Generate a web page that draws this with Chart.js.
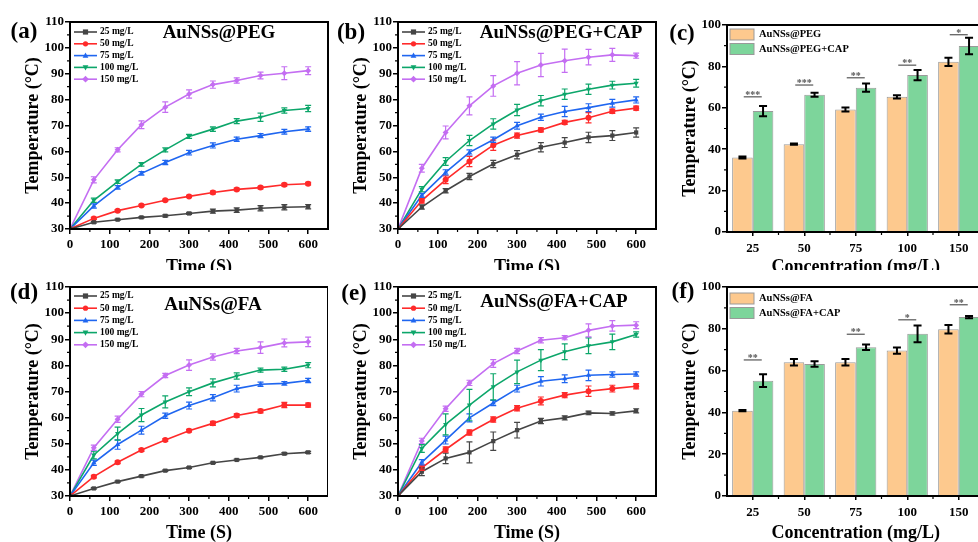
<!DOCTYPE html>
<html>
<head>
<meta charset="utf-8">
<script src="https://cdn.jsdelivr.net/npm/chart.js@4.4.0/dist/chart.umd.min.js"></script>
<style>
  html, body { margin: 0; padding: 0; background: #fff; width: 978px; height: 542px; overflow: hidden; }
  canvas { position: absolute; }
  .tag { position: absolute; font: bold 23px 'Liberation Serif', 'Times New Roman', serif; color: #000; transform: translate(-50%, -50%); }
</style>
</head>
<body>
<canvas id="chartA" width="332" height="285" style="left:0;top:0"></canvas>
<canvas id="chartB" width="332" height="285" style="left:328px;top:0"></canvas>
<canvas id="chartC" width="330" height="285" style="left:657px;top:0"></canvas>
<canvas id="chartD" width="332" height="272" style="left:0;top:270px"></canvas>
<canvas id="chartE" width="332" height="272" style="left:328px;top:270px"></canvas>
<canvas id="chartF" width="330" height="272" style="left:657px;top:270px"></canvas>
<div class="tag" style="left:24px;top:31px">(a)</div>
<div class="tag" style="left:351px;top:32px">(b)</div>
<div class="tag" style="left:682px;top:33px">(c)</div>
<div class="tag" style="left:24px;top:292px">(d)</div>
<div class="tag" style="left:354px;top:293px">(e)</div>
<div class="tag" style="left:683px;top:291px">(f)</div>
<script>
const FONT = "'Liberation Serif', 'Times New Roman', serif";

// temps de mesure (s) et concentrations
const timePoints = [0, 60, 120, 180, 240, 300, 360, 420, 480, 540, 600];
const concNames = ["25 mg/L", "50 mg/L", "75 mg/L", "100 mg/L", "150 mg/L"];
const lineColors = ["#454545", "#ff2a2a", "#1f66f0", "#0ca66a", "#c46ef2"];
const markerStyles = ["rect", "circle", "triangle", "triangle", "rectRot"];
const markerRotation = [0, 0, 0, 180, 0];

// (a) AuNSs@PEG : une ligne par concentration
const pegTemp = [
  [30, 32.6, 33.6, 34.5, 35.1, 36.0, 36.9, 37.3, 38.0, 38.4, 38.6],
  [30, 34.1, 37.1, 39.1, 41.1, 42.6, 44.1, 45.3, 46.0, 47.1, 47.5],
  [30, 38.9, 46.1, 51.5, 55.7, 59.5, 62.3, 64.7, 66.1, 67.6, 68.6],
  [30, 41.1, 48.3, 55.0, 60.6, 65.8, 68.6, 71.7, 73.2, 75.8, 76.6],
  [30, 49.0, 60.6, 70.3, 77.1, 82.2, 85.8, 87.4, 89.3, 90.2, 91.2]
];
const pegErr = [
  [0, 0.3, 0.3, 0.3, 0.4, 0.4, 0.8, 0.9, 1.0, 1.0, 0.8],
  [0, 0.4, 0.4, 0.4, 0.4, 0.4, 0.5, 0.5, 0.5, 0.5, 0.5],
  [0, 0.8, 0.7, 0.7, 0.8, 0.9, 1.0, 0.8, 0.8, 0.9, 0.9],
  [0, 0.8, 0.7, 0.7, 0.8, 0.8, 0.9, 1.0, 1.6, 1.0, 1.2],
  [0, 1.2, 0.8, 1.5, 2.0, 1.6, 1.4, 1.0, 1.3, 2.5, 1.5]
];

// (b) AuNSs@PEG+CAP
const pegCapTemp = [
  [30, 38.5, 44.8, 50.3, 55.1, 58.7, 61.6, 63.4, 65.4, 66.1, 67.3],
  [30, 41.0, 49.0, 56.1, 62.4, 66.1, 68.3, 71.2, 73.0, 75.5, 76.7],
  [30, 43.0, 51.9, 59.6, 64.5, 69.9, 73.2, 75.4, 76.9, 78.6, 79.9],
  [30, 45.4, 56.1, 64.2, 70.6, 76.0, 79.6, 82.1, 84.0, 85.6, 86.3],
  [30, 53.5, 67.3, 77.6, 85.3, 90.2, 93.4, 95.0, 96.4, 97.3, 97.0]
];
const pegCapErr = [
  [0, 0.8, 0.8, 1.2, 1.4, 1.6, 1.8, 1.9, 2.0, 1.9, 1.8],
  [0, 1.0, 1.5, 2.0, 2.0, 1.0, 0.8, 0.8, 2.0, 0.8, 0.8],
  [0, 0.8, 1.0, 1.0, 1.0, 1.3, 1.2, 2.0, 1.5, 1.5, 1.2],
  [0, 1.0, 1.5, 2.0, 2.0, 2.2, 2.0, 2.0, 2.0, 1.5, 1.5],
  [0, 1.5, 2.5, 3.5, 4.0, 4.5, 4.5, 4.5, 3.0, 2.5, 1.0]
];

// (d) AuNSs@FA
const faTemp = [
  [30, 32.9, 35.5, 37.6, 39.7, 40.9, 42.7, 43.8, 44.8, 46.2, 46.7],
  [30, 37.4, 42.9, 47.6, 51.4, 55.0, 57.8, 60.8, 62.5, 64.8, 64.8],
  [30, 42.7, 49.7, 55.2, 60.7, 64.6, 67.6, 71.1, 72.8, 73.1, 74.2],
  [30, 45.7, 53.9, 61.0, 66.0, 69.9, 73.3, 75.9, 78.2, 78.5, 80.1],
  [30, 48.5, 59.4, 69.0, 76.1, 80.1, 83.2, 85.5, 86.8, 88.6, 89.0]
];
const faErr = [
  [0, 0.3, 0.3, 0.3, 0.3, 0.3, 0.3, 0.3, 0.3, 0.4, 0.4],
  [0, 0.5, 0.5, 0.5, 0.5, 0.5, 0.8, 0.6, 0.7, 1.0, 0.8],
  [0, 1.0, 1.8, 1.5, 1.0, 1.3, 1.2, 1.3, 0.8, 0.7, 0.8],
  [0, 1.5, 2.5, 2.5, 2.3, 1.5, 1.5, 1.2, 0.8, 0.8, 1.0],
  [0, 1.0, 1.2, 1.0, 0.8, 2.0, 1.2, 1.0, 2.2, 1.5, 1.8]
];

// (e) AuNSs@FA+CAP
const faCapTemp = [
  [30, 39.3, 44.4, 46.7, 51.0, 55.2, 58.7, 59.9, 61.8, 61.6, 62.6],
  [30, 40.8, 47.8, 54.3, 59.3, 63.6, 66.4, 68.6, 70.1, 71.1, 72.0],
  [30, 42.9, 51.4, 59.9, 65.6, 71.1, 73.9, 74.9, 76.2, 76.5, 76.7],
  [30, 48.2, 57.4, 64.8, 71.8, 77.5, 82.0, 85.2, 87.5, 89.0, 91.8],
  [30, 51.1, 63.4, 73.3, 80.7, 85.5, 89.6, 90.6, 93.4, 95.1, 95.4]
];
const faCapErr = [
  [0, 1.5, 2.0, 4.0, 3.5, 3.0, 1.0, 0.8, 0.7, 0.6, 0.8],
  [0, 1.0, 1.0, 1.0, 1.0, 1.0, 1.5, 1.0, 2.0, 1.3, 1.0],
  [0, 1.0, 1.5, 1.5, 1.0, 1.3, 1.8, 1.5, 2.0, 1.0, 0.8],
  [0, 1.5, 4.0, 6.0, 5.0, 4.5, 4.0, 3.0, 3.0, 3.0, 1.0],
  [0, 1.0, 1.0, 1.0, 1.5, 1.0, 1.0, 0.8, 2.5, 2.0, 1.3]
];

// (c) et (f) : température finale par concentration
const barCats = ["25", "50", "75", "100", "150"];
const pegBar = [36.0, 42.4, 59.2, 65.3, 82.2];
const pegBarErr = [0.5, 0.3, 1.0, 0.8, 2.0];
const pegCapBar = [58.4, 66.3, 69.7, 75.8, 89.9];
const pegCapBarErr = [2.5, 1.0, 2.0, 2.5, 4.0];
const pegStars = ["***", "***", "**", "**", "*"];
const pegStarLevel = [65.3, 71.0, 74.5, 80.6, 95.3];

const faBar = [40.8, 64.0, 64.0, 69.6, 79.8];
const faBarErr = [0.3, 1.5, 1.5, 1.5, 2.0];
const faCapBar = [55.2, 63.2, 71.2, 77.6, 85.6];
const faCapBarErr = [3.0, 1.3, 1.3, 4.0, 0.5];
const faStars = ["**", "", "**", "*", "**"];
const faStarLevel = [65.1, null, 77.4, 84.3, 91.5];

const orange = "#fdc98e";
const green = "#7dd59b";

// dessiner un symbole (légende)
function drawMarker(ctx, style, rot, x, y, r, color) {
  ctx.save();
  ctx.fillStyle = color;
  ctx.translate(x, y);
  ctx.rotate((rot * Math.PI) / 180);
  ctx.beginPath();
  if (style === "rect") {
    ctx.rect(-r, -r, 2 * r, 2 * r);
  } else if (style === "circle") {
    ctx.arc(0, 0, r, 0, Math.PI * 2);
  } else if (style === "triangle") {
    ctx.moveTo(0, -r * 1.2);
    ctx.lineTo(r * 1.1, r * 0.8);
    ctx.lineTo(-r * 1.1, r * 0.8);
    ctx.closePath();
  } else {
    ctx.moveTo(0, -r * 1.3);
    ctx.lineTo(r * 1.3, 0);
    ctx.lineTo(0, r * 1.3);
    ctx.lineTo(-r * 1.3, 0);
    ctx.closePath();
  }
  ctx.fill();
  ctx.restore();
}

// barres d'erreur, cadre, légende, titre et étoiles
const decoPlugin = {
  id: "deco",
  beforeDraw(chart, args, opts) {
    if (opts.whiteBg) {
      const ctx = chart.ctx;
      ctx.save();
      ctx.fillStyle = "#fff";
      ctx.fillRect(0, 0, chart.width, chart.height);
      ctx.restore();
    }
  },
  afterDatasetsDraw(chart) {
    const ctx = chart.ctx;
    const yScale = chart.scales.y;
    chart.data.datasets.forEach((ds, k) => {
      if (!ds.errors) return;
      const meta = chart.getDatasetMeta(k);
      const isBar = chart.config.type === "bar";
      ctx.save();
      ctx.strokeStyle = isBar ? "#000" : ds.borderColor;
      ctx.lineWidth = isBar ? 2 : 1.2;
      const cap = isBar ? 4 : 3;
      meta.data.forEach((el, i) => {
        const e = ds.errors[i];
        if (!e) return;
        const v = isBar ? ds.data[i] : ds.data[i].y;
        const y1 = yScale.getPixelForValue(v - e);
        const y2 = yScale.getPixelForValue(v + e);
        ctx.beginPath();
        ctx.moveTo(el.x, y1);
        ctx.lineTo(el.x, y2);
        ctx.moveTo(el.x - cap, y1);
        ctx.lineTo(el.x + cap, y1);
        ctx.moveTo(el.x - cap, y2);
        ctx.lineTo(el.x + cap, y2);
        ctx.stroke();
      });
      ctx.restore();
    });
  },
  afterDraw(chart, args, opts) {
    const ctx = chart.ctx;
    const a = chart.chartArea;
    const xs = chart.scales.x;
    const ys = chart.scales.y;
    ctx.save();

    // petites graduations
    ctx.strokeStyle = "#000";
    ctx.lineWidth = 1.2;
    ctx.beginPath();
    (opts.minorY || []).forEach((v) => {
      const py = ys.getPixelForValue(v);
      ctx.moveTo(a.left, py);
      ctx.lineTo(a.left - 3, py);
    });
    if (chart.config.type === "bar") {
      for (let i = 0; i < barCats.length - 1; i++) {
        const px = (xs.getPixelForValue(i) + xs.getPixelForValue(i + 1)) / 2;
        ctx.moveTo(px, a.bottom);
        ctx.lineTo(px, a.bottom + 3);
      }
    } else {
      (opts.minorX || []).forEach((v) => {
        const px = xs.getPixelForValue(v);
        ctx.moveTo(px, a.bottom);
        ctx.lineTo(px, a.bottom + 3);
      });
    }
    ctx.stroke();

    // cadre
    ctx.lineWidth = 2;
    ctx.strokeRect(a.left, a.top, a.right - a.left, a.bottom - a.top);

    // étoiles de significativité
    if (opts.stars) {
      opts.stars.labels.forEach((lab, i) => {
        if (!lab) return;
        const cx = xs.getPixelForValue(i);
        const py = ys.getPixelForValue(opts.stars.levels[i]);
        ctx.strokeStyle = "#555";
        ctx.lineWidth = 1.2;
        ctx.beginPath();
        ctx.moveTo(cx - 9, py);
        ctx.lineTo(cx + 9, py);
        ctx.stroke();
        ctx.fillStyle = "#555";
        ctx.font = "bold 10px " + FONT;
        ctx.textAlign = "center";
        ctx.textBaseline = "alphabetic";
        ctx.fillText(lab, cx, py + 1);
      });
    }

    // titre du panneau
    if (opts.title) {
      ctx.fillStyle = "#000";
      ctx.font = "bold 19px " + FONT;
      ctx.textAlign = "center";
      ctx.textBaseline = "middle";
      ctx.fillText(opts.title.text, a.left + opts.title.dx, a.top + opts.title.dy);
    }

    // légende
    if (opts.legend) {
      const L = opts.legend;
      chart.data.datasets.forEach((ds, k) => {
        const y = a.top + L.dy + k * L.step;
        if (L.kind === "line") {
          ctx.strokeStyle = ds.borderColor;
          ctx.lineWidth = 1.6;
          ctx.beginPath();
          ctx.moveTo(a.left + 4, y);
          ctx.lineTo(a.left + 27, y);
          ctx.stroke();
          drawMarker(ctx, markerStyles[k], markerRotation[k], a.left + 15.5, y, 2.6, ds.borderColor);
          ctx.font = "bold 9.5px " + FONT;
          ctx.fillStyle = "#000";
          ctx.textAlign = "left";
          ctx.textBaseline = "middle";
          ctx.fillText(ds.label, a.left + 30, y);
        } else {
          ctx.fillStyle = ds.backgroundColor;
          ctx.fillRect(a.left + 3, y - 5.5, 24, 11);
          ctx.strokeStyle = "#999";
          ctx.lineWidth = 1;
          ctx.strokeRect(a.left + 3, y - 5.5, 24, 11);
          ctx.font = "bold 10.5px " + FONT;
          ctx.fillStyle = "#000";
          ctx.textAlign = "left";
          ctx.textBaseline = "middle";
          ctx.fillText(ds.label, a.left + 32, y);
        }
      });
    }
    ctx.restore();
  }
};
Chart.register(decoPlugin);

function tickFont() {
  return { family: FONT, size: 13, weight: "bold" };
}
function titleFont() {
  return { family: FONT, size: 18, weight: "bold", lineHeight: 1 };
}

function yAxis(min, max, step) {
  return {
    min: min,
    max: max,
    afterFit: (s) => { s.width = 70; },
    ticks: { stepSize: step, padding: 1, color: "#000", font: tickFont() },
    grid: { drawOnChartArea: false, drawTicks: true, tickLength: 5, color: "#000", lineWidth: 1.5 },
    border: { display: true, color: "#000", width: 2 },
    title: { display: true, text: "Temperature (°C)", color: "#000", font: titleFont(), padding: { top: 24, bottom: 0 } }
  };
}

function makeLineChart(id, temps, errs, panel) {
  const datasets = temps.map((arr, k) => ({
    label: concNames[k],
    data: timePoints.map((t, i) => ({ x: t, y: arr[i] })),
    errors: errs[k],
    borderColor: lineColors[k],
    backgroundColor: lineColors[k],
    borderWidth: 1.6,
    pointStyle: markerStyles[k],
    pointRotation: markerRotation[k],
    pointRadius: 3,
    pointBorderWidth: 0,
    tension: 0
  }));

  return new Chart(document.getElementById(id), {
    type: "line",
    data: { datasets: datasets },
    options: {
      responsive: false,
      animation: false,
      layout: { padding: { top: panel.padTop, right: 2, left: 0, bottom: 0 } },
      plugins: {
        legend: { display: false },
        tooltip: { enabled: false },
        deco: {
          whiteBg: panel.whiteBg,
          minorX: [50, 150, 250, 350, 450, 550],
          minorY: [35, 45, 55, 65, 75, 85, 95, 105],
          title: panel.title,
          legend: { kind: "line", dy: panel.legendDy, step: panel.legendStep }
        }
      },
      scales: {
        x: {
          type: "linear",
          min: 0,
          max: 650,
          afterFit: (s) => { s.height = panel.xHeight; },
          ticks: { stepSize: 100, includeBounds: false, padding: 3, maxRotation: 0, color: "#000", font: tickFont() },
          grid: { drawOnChartArea: false, drawTicks: true, tickLength: 5, color: "#000", lineWidth: 1.5 },
          border: { display: true, color: "#000", width: 2 },
          title: { display: true, text: "Time (S)", color: "#000", font: titleFont(), padding: { top: 0, bottom: panel.titlePad } }
        },
        y: yAxis(30, 110, 10)
      }
    }
  });
}

function makeBarChart(id, names, vals1, err1, vals2, err2, stars, levels, panel) {
  return new Chart(document.getElementById(id), {
    type: "bar",
    data: {
      labels: barCats,
      datasets: [
        { label: names[0], data: vals1, errors: err1, backgroundColor: orange, borderColor: "#9a9a9a", borderWidth: 1, categoryPercentage: 0.8, barPercentage: 1 },
        { label: names[1], data: vals2, errors: err2, backgroundColor: green, borderColor: "#9a9a9a", borderWidth: 1, categoryPercentage: 0.8, barPercentage: 1 }
      ]
    },
    options: {
      responsive: false,
      animation: false,
      layout: { padding: { top: panel.padTop, right: 2.5, left: 0, bottom: 0 } },
      plugins: {
        legend: { display: false },
        tooltip: { enabled: false },
        deco: {
          whiteBg: panel.whiteBg,
          minorY: [10, 30, 50, 70, 90],
          stars: { labels: stars, levels: levels },
          legend: { kind: "bar", dy: panel.legendDy, step: 14.5 }
        }
      },
      scales: {
        x: {
          afterFit: (s) => { s.height = panel.xHeight; },
          ticks: { padding: 5, maxRotation: 0, color: "#000", font: tickFont() },
          grid: { offset: false, drawOnChartArea: false, drawTicks: true, tickLength: 4, color: "#000", lineWidth: 1.5 },
          border: { display: true, color: "#000", width: 2 },
          title: { display: true, text: "Concentration (mg/L)", color: "#000", font: titleFont(), padding: { top: 0, bottom: panel.titlePad } }
        },
        y: yAxis(0, 100, 20)
      }
    }
  });
}

document.addEventListener("DOMContentLoaded", function () {
  makeLineChart("chartA", pegTemp, pegErr, {
    padTop: 22, xHeight: 56, titlePad: 9, whiteBg: false,
    title: { text: "AuNSs@PEG", dx: 149, dy: 11 }, legendDy: 10, legendStep: 11.8
  });
  makeLineChart("chartB", pegCapTemp, pegCapErr, {
    padTop: 22, xHeight: 56, titlePad: 9, whiteBg: false,
    title: { text: "AuNSs@PEG+CAP", dx: 163, dy: 11 }, legendDy: 10, legendStep: 11.8
  });
  makeBarChart("chartC", ["AuNSs@PEG", "AuNSs@PEG+CAP"], pegBar, pegBarErr, pegCapBar, pegCapBarErr, pegStars, pegStarLevel, {
    padTop: 25, xHeight: 53, titlePad: 9, whiteBg: false, legendDy: 9.5
  });
  makeLineChart("chartD", faTemp, faErr, {
    padTop: 17, xHeight: 46, titlePad: 0, whiteBg: true,
    title: { text: "AuNSs@FA", dx: 143, dy: 18 }, legendDy: 9, legendStep: 12.2
  });
  makeLineChart("chartE", faCapTemp, faCapErr, {
    padTop: 17, xHeight: 46, titlePad: 0, whiteBg: true,
    title: { text: "AuNSs@FA+CAP", dx: 156, dy: 15 }, legendDy: 9, legendStep: 12.2
  });
  makeBarChart("chartF", ["AuNSs@FA", "AuNSs@FA+CAP"], faBar, faBarErr, faCapBar, faCapBarErr, faStars, faStarLevel, {
    padTop: 17, xHeight: 46, titlePad: 0, whiteBg: true, legendDy: 11.5
  });
});
</script>
</body>
</html>
